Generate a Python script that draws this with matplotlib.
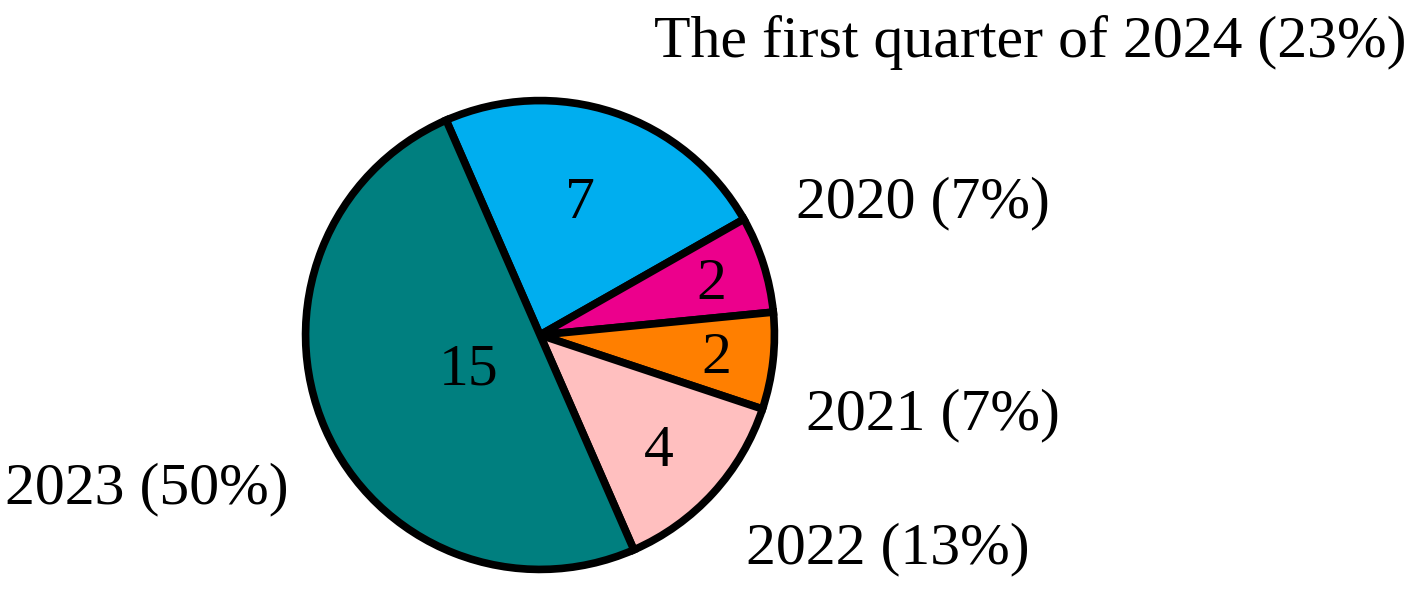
import matplotlib
matplotlib.use("Agg")
import matplotlib.pyplot as plt
import numpy as np

categories = ["The first quarter of 2024", "2020", "2021", "2022", "2023"]
counts = [7, 2, 2, 4, 15]
percent_labels = ["23%", "7%", "7%", "13%", "50%"]
colors = ["#00AEEF", "#EC008C", "#FF7F00", "#FFBFBF", "#007F7F"]

W, H = 1426, 591
fig = plt.figure(figsize=(W / 100, H / 100), dpi=100)
ax = fig.add_axes([0, 0, 1, 1])

unit = 238.0
cx, cy = 540.0, 591 - 335.0

wedges, _ = ax.pie(counts, colors=colors, startangle=113.6, counterclock=False,
                   radius=0.985,
                   wedgeprops=dict(edgecolor="black", linewidth=5.5))
ax.set_xlim(-cx / unit, (W - cx) / unit)
ax.set_ylim(-cy / unit, (H - cy) / unit)
ax.set_aspect("auto")
ax.axis("off")

font = dict(family=["Liberation Serif", "DejaVu Serif"], fontsize=43)

inner_pos = [(0.17, 0.55), (0.72, 0.21), (0.74, -0.10), (0.50, -0.49), (-0.30, -0.15)]
outer_pos = [(2.06, 1.23), (1.61, 0.555), (1.65, -0.336), (1.46, -0.90), (-1.65, -0.65)]

for c, n, p, ip, op in zip(categories, counts, percent_labels, inner_pos, outer_pos):
    ax.text(ip[0], ip[1], str(n), ha="center", va="center", **font)
    ax.text(op[0], op[1], f"{c} ({p})", ha="center", va="center", **font)

fig.savefig("out.png", dpi=100)
